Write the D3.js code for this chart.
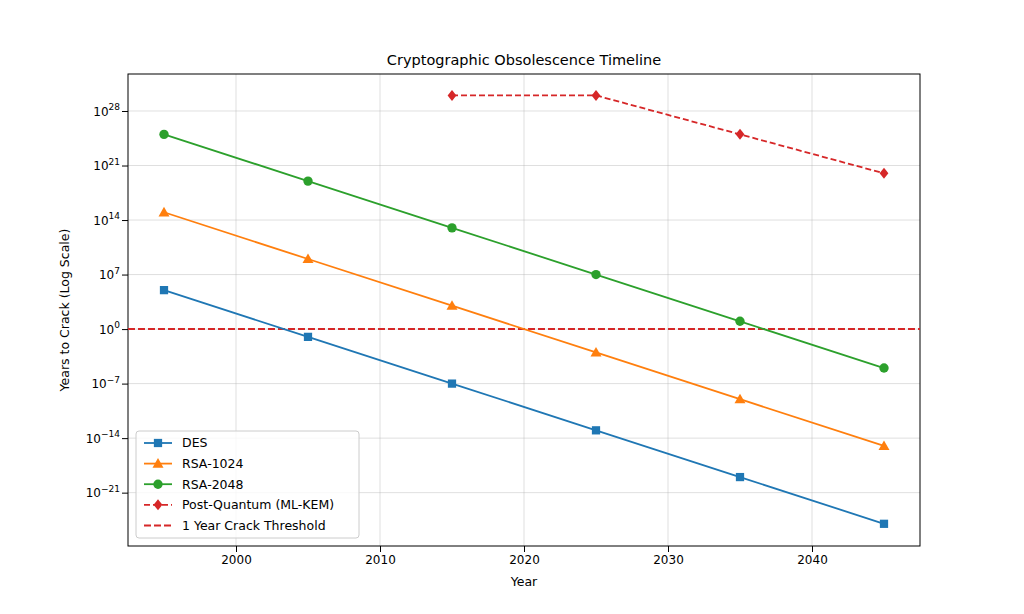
<!DOCTYPE html>
<html><head><meta charset="utf-8">
<script src="https://cdn.jsdelivr.net/npm/d3@7"></script>
<style>body{margin:0;background:#fff}text{font-family:"DejaVu Sans",sans-serif}</style>
</head><body><div id="chart"></div>
<script>
// Data (exponents of years to crack)
const years = [1995, 2005, 2015, 2025, 2035, 2045];
const desExp = [5, -1, -7, -13, -19, -25];
const rsa1024Exp = [15, 9, 3, -3, -9, -15];
const rsa2048Exp = [25, 19, 13, 7, 1, -5];
const pqYears = [2015, 2025, 2035, 2045];
const pqExp = [30, 30, 25, 20];
const yTickExp = [-21, -14, -7, 0, 7, 14, 21, 28];
const xTicks = [2000, 2010, 2020, 2030, 2040];

const series = [
  {name: "DES", x: years, e: desExp, color: "#1f77b4", marker: "square", dash: null},
  {name: "RSA-1024", x: years, e: rsa1024Exp, color: "#ff7f0e", marker: "triangle", dash: null},
  {name: "RSA-2048", x: years, e: rsa2048Exp, color: "#2ca02c", marker: "circle", dash: null},
  {name: "Post-Quantum (ML-KEM)", x: pqYears, e: pqExp, color: "#d62728", marker: "diamond", dash: "6,3"}
];

const W = 1024, H = 614;
const margin = {top: 74, right: 104, bottom: 68, left: 128};
const w = W - margin.left - margin.right, h = H - margin.top - margin.bottom;

const svg = d3.select("#chart").append("svg").attr("width", W).attr("height", H);
const g = svg.append("g").attr("transform", `translate(${margin.left},${margin.top})`);

const x = d3.scaleLinear().domain([1992.5, 2047.5]).range([0, w]);
const y = d3.scaleLog().domain([Math.pow(10, -27.85), Math.pow(10, 32.75)]).range([h, 0]);

// Grid
g.selectAll(".gx").data(xTicks).join("line")
  .attr("x1", d => x(d)).attr("x2", d => x(d)).attr("y1", 0).attr("y2", h)
  .attr("stroke", "#b0b0b0").attr("stroke-opacity", 0.5).attr("stroke-width", 0.8);
g.selectAll(".gy").data(yTickExp).join("line")
  .attr("x1", 0).attr("x2", w).attr("y1", d => y(Math.pow(10, d))).attr("y2", d => y(Math.pow(10, d)))
  .attr("stroke", "#b0b0b0").attr("stroke-opacity", 0.5).attr("stroke-width", 0.8);

// Axes
const xAxis = g.append("g").attr("transform", `translate(0,${h})`)
  .call(d3.axisBottom(x).tickValues(xTicks).tickFormat(d3.format("d")).tickSizeOuter(0));
xAxis.selectAll("text").attr("font-size", 12).attr("fill", "#000");
const yAxis = g.append("g").call(d3.axisLeft(y).tickValues(yTickExp.map(e => Math.pow(10, e))).tickFormat("").tickSizeOuter(0));
yAxis.selectAll(".tick").each(function(d, i) {
  const t = d3.select(this).append("text").attr("x", -8).attr("dy", "0.35em").attr("text-anchor", "end").attr("font-size", 12).attr("fill", "#000");
  t.append("tspan").text("10");
  t.append("tspan").attr("dy", "-0.6em").attr("font-size", 9).text(String(yTickExp[i]).replace("-", "\u2212"));
});
svg.selectAll(".domain").remove();
g.append("rect").attr("width", w).attr("height", h).attr("fill", "none").attr("stroke", "#000").attr("stroke-width", 1);

// Threshold
g.append("line").attr("x1", 0).attr("x2", w).attr("y1", y(1)).attr("y2", y(1))
  .attr("stroke", "#d62728").attr("stroke-width", 2).attr("stroke-dasharray", "7,3");

function drawMarker(sel, m, color, s) {
  if (m === "circle") sel.append("circle").attr("r", s * 0.85).attr("fill", color);
  else if (m === "square") sel.append("rect").attr("x", -s * 0.75).attr("y", -s * 0.75).attr("width", s * 1.5).attr("height", s * 1.5).attr("fill", color);
  else if (m === "triangle") sel.append("path").attr("d", `M0,${-s}L${s},${s * 0.75}L${-s},${s * 0.75}Z`).attr("fill", color);
  else sel.append("path").attr("d", `M0,${-s}L${s * 0.8},0L0,${s}L${-s * 0.8},0Z`).attr("fill", color);
}

series.forEach(s => {
  const pts = s.x.map((xv, i) => [x(xv), y(Math.pow(10, s.e[i]))]);
  g.append("path").attr("d", d3.line()(pts)).attr("fill", "none").attr("stroke", s.color)
    .attr("stroke-width", 1.8).attr("stroke-dasharray", s.dash);
  pts.forEach(p => drawMarker(g.append("g").attr("transform", `translate(${p[0]},${p[1]})`), s.marker, s.color, 5.5));
});

// Labels
svg.append("text").attr("x", margin.left + w / 2).attr("y", 65).attr("text-anchor", "middle").attr("font-size", 14.5).text("Cryptographic Obsolescence Timeline");
svg.append("text").attr("x", margin.left + w / 2).attr("y", 586).attr("text-anchor", "middle").attr("font-size", 12.5).text("Year");
svg.append("text").attr("transform", `translate(69,${margin.top + h / 2}) rotate(-90)`).attr("text-anchor", "middle").attr("font-size", 12.5).text("Years to Crack (Log Scale)");

// Legend
const lg = g.append("g").attr("transform", "translate(8,357)");
lg.append("rect").attr("width", 223).attr("height", 107).attr("rx", 3).attr("fill", "#fff").attr("fill-opacity", 0.8).attr("stroke", "#ccc");
const items = series.concat([{name: "1 Year Crack Threshold", color: "#d62728", marker: null, dash: "7,3"}]);
items.forEach((s, i) => {
  const yy = 12 + i * 20.6;
  lg.append("line").attr("x1", 8).attr("x2", 36).attr("y1", yy).attr("y2", yy).attr("stroke", s.color).attr("stroke-width", s.marker ? 1.8 : 2).attr("stroke-dasharray", s.dash);
  if (s.marker) drawMarker(lg.append("g").attr("transform", `translate(22,${yy})`), s.marker, s.color, 5.5);
  lg.append("text").attr("x", 46).attr("y", yy).attr("dy", "0.35em").attr("font-size", 12.5).text(s.name);
});
</script></body></html>
